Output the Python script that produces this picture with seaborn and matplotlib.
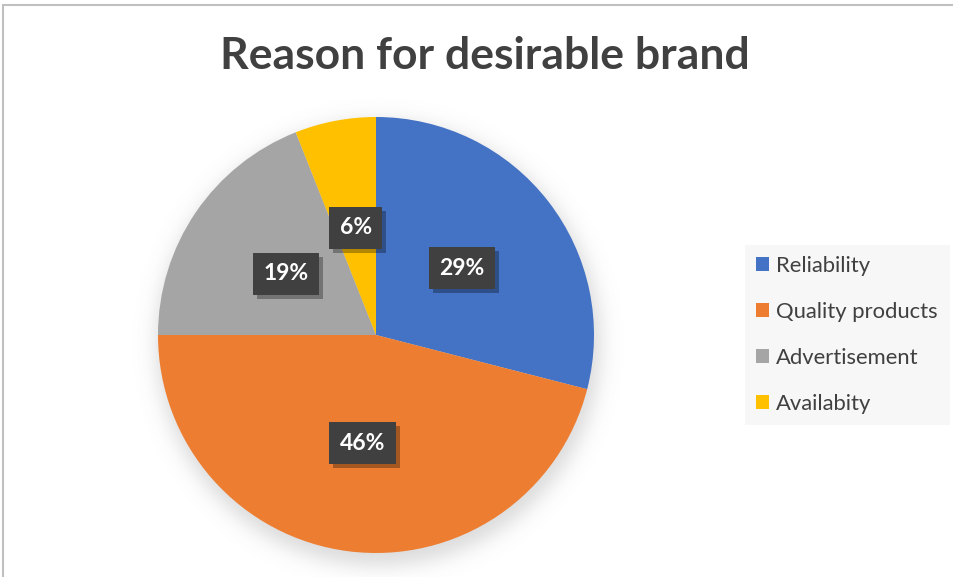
import numpy as np
import matplotlib
matplotlib.use("Agg")
import matplotlib.pyplot as plt
import matplotlib.patheffects as pe
from matplotlib.patches import Patch, Rectangle
from matplotlib.lines import Line2D
import seaborn as sns

# Survey shares (percent), in drawing order clockwise from 12 o'clock
reasons = ["Reliability", "Quality products", "Advertisement", "Availabity"]
shares = [29, 46, 19, 6]
colors = ["#4472C4", "#ED7D31", "#A5A5A5", "#FFC000"]
title = "Reason for desirable brand"

sns.set_theme(style="white")
plt.rcParams["font.family"] = ["Lato", "DejaVu Sans"]
palette = sns.color_palette(colors)

W, H = 954, 577
fig = plt.figure(figsize=(W / 100, H / 100), dpi=100)
fig.patch.set_facecolor("white")

# soft drop shadow beneath the pie
bg = fig.add_axes([0, 0, 1, 1], zorder=0)
bg.set_axis_off()
yy, xx = np.mgrid[0:H, 0:W]
d = np.hypot(xx - 378, yy - 343)
alpha = 0.22 * 0.5 * (1 - np.tanh((d - 222) / 12.0))
img = np.zeros((H, W, 4))
img[..., :3] = 0.35
img[..., 3] = alpha
bg.imshow(img, extent=(0, W, H, 0), interpolation="bilinear")
bg.set_xlim(0, W)
bg.set_ylim(H, 0)

# legend panel background
bg.add_patch(Rectangle((745, 245), 205, 180, facecolor="#F7F7F7",
                       edgecolor="none"))

# pie area: centre (376, 335), radius 218 px
cx, cy, r = 376, 335, 218
ax = fig.add_axes([(cx - r) / W, 1 - (cy + r) / H, 2 * r / W, 2 * r / H], zorder=1)
wedges, texts, autotexts = ax.pie(
    shares,
    colors=palette,
    startangle=90,
    counterclock=False,
    autopct="%d%%",
    pctdistance=0.5,
    wedgeprops=dict(linewidth=0),
    textprops=dict(color="white", fontsize=16.5, fontweight="bold"),
)
ax.set_xlim(-1, 1)
ax.set_ylim(-1, 1)
ax.set_aspect("equal")

for t in autotexts:
    t.set_bbox(dict(boxstyle="square,pad=0.46", fc="#404040", ec="none", lw=0))
    t.get_bbox_patch().set_path_effects([
        pe.SimplePatchShadow(offset=(3, -3), shadow_rgbFace="black", alpha=0.3),
        pe.Normal(),
    ])

# title
fig.text(485 / W, 1 - 56 / H, title, ha="center", va="center",
         fontsize=32, fontweight="bold", color="#404040")

# legend
handles = [Patch(facecolor=c, edgecolor="none") for c in palette]
leg = fig.legend(handles, reasons, loc="center left",
                 bbox_to_anchor=(756 / W, 1 - 335 / H),
                 frameon=False, fontsize=15.8, labelcolor="#404040",
                 handlelength=0.6, handleheight=0.6, handletextpad=0.3,
                 labelspacing=1.18, borderpad=0, borderaxespad=0)

# chart-area outline (left and top edges)
fig.add_artist(Line2D([3 / W, 3 / W], [0, 1 - 5 / H], color="#C0C0C0", lw=1.5))
fig.add_artist(Line2D([3 / W, 1], [1 - 5 / H, 1 - 5 / H], color="#C0C0C0", lw=1.5))

fig.savefig("out.png", dpi=100)
